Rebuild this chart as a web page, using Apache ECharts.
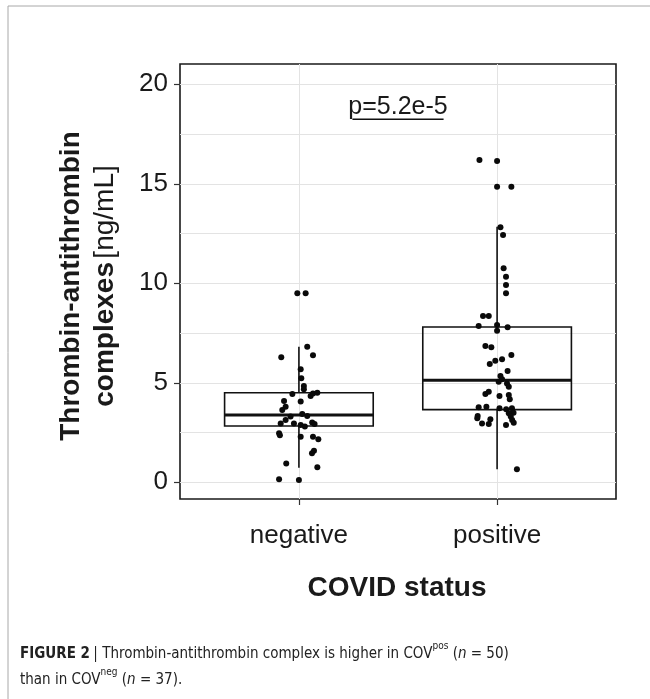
<!DOCTYPE html>
<html>
<head>
<meta charset="utf-8">
<script src="https://cdn.jsdelivr.net/npm/echarts@6/dist/echarts.min.js"></script>
<style>html,body{margin:0;padding:0;background:#fff}#c{width:650px;height:699px}</style>
</head>
<body>
<div id="c"></div>
<script>
// ---- data ----
const categories = ['negative', 'positive'];
const yTicks = [0, 5, 10, 15, 20];
const yGrid = [0, 2.5, 5, 7.5, 10, 12.5, 15, 17.5, 20];
// box stats: [whiskerLow, Q1, median, Q3, whiskerHigh]
const negBox = [0.73, 2.83, 3.38, 4.50, 6.81];
const posBox = [0.65, 3.65, 5.13, 7.80, 12.84];
// points: values and horizontal jitter (category units)
const negValues = [9.50, 9.50, 6.81, 6.28, 6.38, 5.68, 5.23, 4.84, 4.68, 4.44, 4.34, 4.46, 4.50, 4.09, 4.06, 3.80, 3.63, 3.43, 3.33, 3.30, 3.13, 2.96, 2.96, 2.88, 3.00, 2.93, 2.46, 2.36, 2.29, 2.29, 2.16, 1.59, 1.46, 0.95, 0.75, 0.15, 0.12, 2.80];
const negJitter = [-0.008, 0.034, 0.042, -0.089, 0.071, 0.009, 0.012, 0.025, 0.025, -0.033, 0.059, 0.071, 0.093, -0.075, 0.009, -0.067, -0.084, 0.017, 0.042, -0.042, -0.067, -0.092, -0.025, 0.009, 0.067, 0.079, -0.100, -0.096, 0.009, 0.071, 0.098, 0.076, 0.066, -0.064, 0.093, -0.100, 0.000, 0.030];
const posValues = [16.20, 16.15, 14.85, 14.85, 12.81, 12.43, 10.75, 10.33, 9.91, 9.50, 8.36, 8.36, 7.85, 7.90, 7.62, 7.79, 6.85, 6.78, 6.40, 5.94, 6.11, 6.18, 5.59, 5.34, 5.18, 4.97, 4.80, 4.44, 4.55, 4.34, 4.39, 4.17, 3.77, 3.80, 3.72, 3.67, 3.72, 3.50, 3.33, 3.22, 2.96, 2.93, 3.17, 2.88, 3.47, 3.30, 3.13, 2.99, 0.65, 5.05];
const posJitter = [-0.089, 0.000, 0.000, 0.072, 0.017, 0.030, 0.033, 0.045, 0.045, 0.045, -0.071, -0.042, -0.093, 0.000, 0.000, 0.053, -0.059, -0.029, 0.072, -0.037, -0.009, 0.025, 0.053, 0.017, 0.025, 0.050, 0.059, -0.059, -0.042, 0.012, 0.059, 0.064, -0.093, -0.054, 0.012, 0.046, 0.075, 0.083, -0.098, -0.100, -0.076, -0.042, -0.034, 0.045, 0.059, 0.069, 0.076, 0.084, 0.100, 0.008];
const pLabel = 'p=5.2e-5';

// ---- build ----
const boxData = [[1].concat(negBox), [2].concat(posBox)];
const pts = [];
negValues.forEach((v, i) => pts.push([1 + negJitter[i], v]));
posValues.forEach((v, i) => pts.push([2 + posJitter[i], v]));

const chart = echarts.init(document.getElementById('c'), null, {renderer: 'canvas'});
const txt = '#1a1a1a';
const sans = '"Liberation Sans", Arial, sans-serif';
const cond = '"DejaVu Sans Condensed", "Liberation Sans Narrow", Arial, sans-serif';
chart.setOption({
  animation: false,
  backgroundColor: '#fff',
  grid: {left: 180, right: 34, top: 64, bottom: 200, show: true, borderColor: '#1a1a1a', borderWidth: 1.6, backgroundColor: 'transparent'},
  xAxis: [{
    type: 'value', min: 0.4, max: 2.6, position: 'bottom',
    axisLine: {show: false, onZero: false},
    axisTick: {show: true, inside: false, length: 6, customValues: [1, 2], lineStyle: {color: '#333', width: 1.2}},
    axisLabel: {customValues: [1, 2], formatter: v => categories[Math.round(v) - 1] || '', color: txt, fontSize: 26, fontFamily: sans, margin: 24},
    splitLine: {show: true, lineStyle: {color: '#e3e3e3', width: 1}}
  }],
  yAxis: [{
    type: 'value', min: -0.84, max: 21.02,
    axisLine: {show: false, onZero: false},
    axisTick: {show: true, inside: false, length: 6, customValues: yTicks, lineStyle: {color: '#333', width: 1.2}},
    axisLabel: {customValues: yTicks, color: txt, fontSize: 26, fontFamily: sans, margin: 12},
    splitLine: {show: false}
  }, {
    type: 'value', min: -0.84, max: 21.02, position: 'left',
    axisLine: {show: false, onZero: false}, axisLabel: {show: false},
    axisTick: {show: false, customValues: yGrid},
    splitLine: {show: true, lineStyle: {color: '#e3e3e3', width: 1}}
  }],
  series: [{
    type: 'custom',
    data: boxData,
    z: 3,
    renderItem: function (params, api) {
      const x = api.value(0);
      const half = 0.375;
      const lo = api.coord([x, api.value(1)]);
      const q1 = api.coord([x, api.value(2)]);
      const md = api.coord([x, api.value(3)]);
      const q3 = api.coord([x, api.value(4)]);
      const hi = api.coord([x, api.value(5)]);
      const l = api.coord([x - half, 0])[0];
      const r = api.coord([x + half, 0])[0];
      const st = {stroke: '#111', lineWidth: 1.6, fill: null};
      return {type: 'group', children: [
        {type: 'line', shape: {x1: hi[0], y1: hi[1], x2: q3[0], y2: q3[1]}, style: st},
        {type: 'line', shape: {x1: q1[0], y1: q1[1], x2: lo[0], y2: lo[1]}, style: st},
        {type: 'rect', shape: {x: l, y: q3[1], width: r - l, height: q1[1] - q3[1]}, style: {stroke: '#111', lineWidth: 1.6, fill: 'rgba(0,0,0,0)'}},
        {type: 'line', shape: {x1: l, y1: md[1], x2: r, y2: md[1]}, style: {stroke: '#111', lineWidth: 3}}
      ]};
    }
  }, {
    type: 'scatter',
    data: pts,
    symbolSize: 6,
    z: 4,
    itemStyle: {color: '#0a0a0a', opacity: 1}
  }, {
    type: 'custom',
    data: [[1.5, 18.87, 1.27, 1.73, 18.24]],
    z: 5,
    renderItem: function (params, api) {
      const c = api.coord([api.value(0), api.value(1)]);
      const a = api.coord([api.value(2), api.value(4)]);
      const b = api.coord([api.value(3), api.value(4)]);
      return {type: 'group', children: [
        {type: 'text', style: {text: pLabel, x: c[0], y: c[1], align: 'center', verticalAlign: 'middle', fontSize: 25, fontFamily: sans, fill: txt}},
        {type: 'line', shape: {x1: a[0], y1: a[1], x2: b[0], y2: b[1]}, style: {stroke: '#111', lineWidth: 1.6}}
      ]};
    }
  }],
  graphic: [
    {type: 'polyline', shape: {points: [[8, 699], [8, 6], [650, 6]]}, style: {stroke: '#a8a8a8', lineWidth: 1, fill: null}},
    {type: 'text', x: 88, y: 286, rotation: Math.PI / 2, style: {
      text: '{b|Thrombin-antithrombin}\n{b|complexes} {n|[ng/mL]}',
      align: 'center', verticalAlign: 'middle',
      rich: {b: {fontSize: 28, fontWeight: 'bold', fontFamily: sans, fill: txt, lineHeight: 34},
             n: {fontSize: 28, fontFamily: sans, fill: txt, lineHeight: 34}}
    }},
    {type: 'text', x: 397, y: 588, style: {text: 'COVID status', align: 'center', verticalAlign: 'middle', fontSize: 28, fontWeight: 'bold', fontFamily: sans, fill: txt}},
    {type: 'text', x: 20, y: 667, style: {
      text: '{b|FIGURE 2} {r|| Thrombin-antithrombin complex is higher in COV}{s|pos}{r| (}{i|n}{r| = 50)}\n{r|than in COV}{s|neg}{r| (}{i|n}{r| = 37).}',
      verticalAlign: 'middle',
      rich: {
        b: {fontSize: 15, fontWeight: 'bold', fontFamily: cond, fill: '#222', lineHeight: 26},
        r: {fontSize: 15, fontFamily: cond, fill: '#222', lineHeight: 26},
        i: {fontSize: 15, fontStyle: 'italic', fontFamily: cond, fill: '#222', lineHeight: 26},
        s: {fontSize: 10, fontFamily: cond, fill: '#222', lineHeight: 26, verticalAlign: 'top', padding: [0, 0, 9, 0]}
      }
    }}
  ]
});
</script>
</body>
</html>
